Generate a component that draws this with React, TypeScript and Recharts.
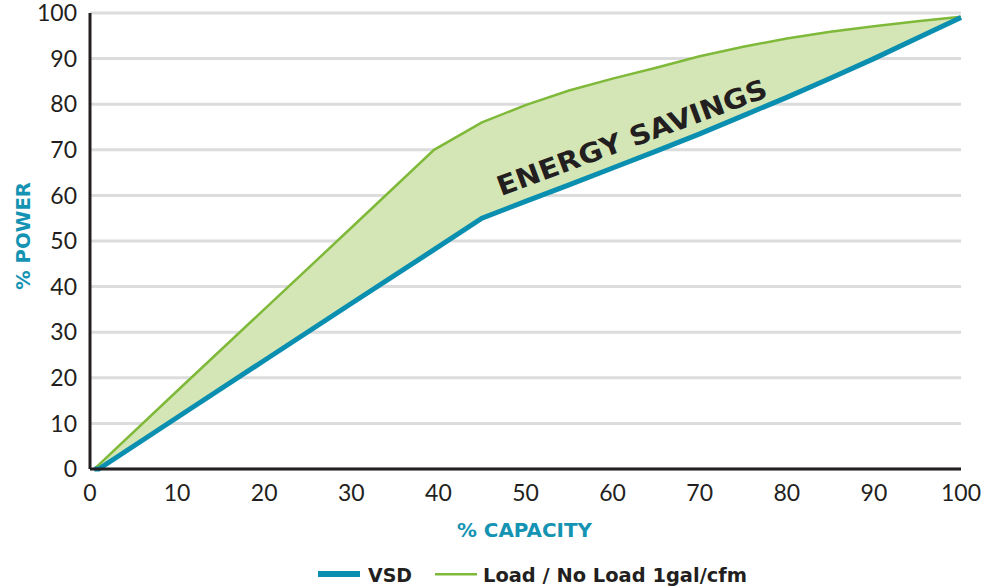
import React from "react";
import {
  ComposedChart,
  Line,
  Area,
  XAxis,
  YAxis,
  CartesianGrid,
  ReferenceDot,
} from "recharts";

const capacity = [0.5, 1, 10, 20, 30, 39.5, 45, 50, 55, 60, 65, 70, 75, 80, 85, 90, 95, 100];
const vsdPower = [0, 0, 11.3, 23.8, 36.3, 48.1, 55, 58.7, 62.3, 66, 69.7, 73.5, 77.5, 81.5, 85.7, 90, 94.5, 99];
const loadNoLoadPower = [0, 0.9, 17.1, 35, 52.9, 70, 76, 79.8, 83, 85.6, 88, 90.5, 92.6, 94.4, 95.9, 97.1, 98.2, 99.2];
const xTicks = [0, 10, 20, 30, 40, 50, 60, 70, 80, 90, 100];
const yTicks = [0, 10, 20, 30, 40, 50, 60, 70, 80, 90, 100];
const seriesNames = ["VSD", "Load / No Load 1gal/cfm"];
const annotation = { text: "ENERGY SAVINGS", x: 62.2, y: 72.7 };

const data = capacity.map((c, i) => ({
  capacity: c,
  vsd: vsdPower[i],
  load: loadNoLoadPower[i],
  band: [vsdPower[i], loadNoLoadPower[i]],
}));

const TEAL = "#0b8fb0";
const LABEL_TEAL = "#1593b3";
const GREEN = "#7fb93a";
const FILL = "#d5e6b6";
const DARK = "#231f20";
const TICK_FONT = "Lato, 'Open Sans', sans-serif";
const BOLD_FONT = "'DejaVu Sans', sans-serif";

const tickStyle = { fill: DARK, fontSize: 23, fontFamily: TICK_FONT, fontWeight: 400 };

const XLabel = (props: any) => {
  const vb = props.viewBox || {};
  return (
    <text
      x={vb.x + vb.width / 2 - 1}
      y={537}
      textAnchor="middle"
      fill={LABEL_TEAL}
      fontFamily={BOLD_FONT}
      fontWeight="bold"
      fontSize={19}
      textLength={135}
      lengthAdjust="spacingAndGlyphs"
    >
      % CAPACITY
    </text>
  );
};

const YLabel = () => {
  return (
    <text
      x={0}
      y={0}
      transform="translate(30,236) rotate(-90)"
      textAnchor="middle"
      fill={LABEL_TEAL}
      fontFamily={BOLD_FONT}
      fontWeight="bold"
      fontSize={19}
      textLength={108}
      lengthAdjust="spacingAndGlyphs"
    >
      % POWER
    </text>
  );
};

const AnnotationShape = (props: any) => {
  const { cx, cy } = props;
  return (
    <text
      x={0}
      y={0}
      transform={`translate(${cx},${cy}) rotate(-20.4)`}
      textAnchor="middle"
      dominantBaseline="central"
      fill={DARK}
      fontFamily={BOLD_FONT}
      fontWeight="bold"
      fontSize={27}
      textLength={286}
      lengthAdjust="spacingAndGlyphs"
    >
      {annotation.text}
    </text>
  );
};

export default function App() {
  return (
    <div style={{ position: "absolute", left: 0, top: 0, width: 995, height: 586, background: "#fff", overflow: "hidden" }}>
      <ComposedChart
        width={995}
        height={586}
        data={data}
        margin={{ top: 13, right: 34, left: 0, bottom: 37 }}
      >
        <CartesianGrid vertical={false} stroke="#dcdcdc" strokeWidth={3} />
        <XAxis
          dataKey="capacity"
          type="number"
          domain={[0, 100]}
          ticks={xTicks}
          tickLine={false}
          tickSize={0}
          tickMargin={16}
          axisLine={{ stroke: DARK, strokeWidth: 3 }}
          tick={tickStyle}
          height={80}
          label={<XLabel />}
          interval={0}
        />
        <YAxis
          type="number"
          domain={[0, 100]}
          ticks={yTicks}
          tickLine={false}
          tickSize={0}
          tickMargin={13}
          axisLine={{ stroke: DARK, strokeWidth: 3 }}
          tick={tickStyle}
          width={90}
          label={<YLabel />}
          interval={0}
        />
        <Area
          dataKey="band"
          type="linear"
          fill={FILL}
          fillOpacity={1}
          stroke="none"
          isAnimationActive={false}
          activeDot={false}
        />
        <Line
          dataKey="load"
          type="linear"
          stroke={GREEN}
          strokeWidth={2.5}
          dot={false}
          activeDot={false}
          isAnimationActive={false}
          name={seriesNames[1]}
        />
        <Line
          dataKey="vsd"
          type="linear"
          stroke={TEAL}
          strokeWidth={5}
          dot={false}
          activeDot={false}
          isAnimationActive={false}
          name={seriesNames[0]}
        />
        <ReferenceDot
          x={annotation.x}
          y={annotation.y}
          r={0}
          shape={<AnnotationShape />}
          ifOverflow="visible"
        />
      </ComposedChart>
      <svg
        width={995}
        height={46}
        style={{ position: "absolute", left: 0, top: 540 }}
      >
        <rect x={318} y={31} width={42} height={6} fill={TEAL} />
        <text
          x={368}
          y={42}
          fill={DARK}
          fontFamily={BOLD_FONT}
          fontWeight="bold"
          fontSize={19}
          textLength={44}
          lengthAdjust="spacingAndGlyphs"
        >
          {seriesNames[0]}
        </text>
        <rect x={435} y={33} width={42} height={2.5} fill={GREEN} />
        <text
          x={483}
          y={42}
          fill={DARK}
          fontFamily={BOLD_FONT}
          fontWeight="bold"
          fontSize={19}
          textLength={264}
          lengthAdjust="spacingAndGlyphs"
        >
          {seriesNames[1]}
        </text>
      </svg>
    </div>
  );
}
